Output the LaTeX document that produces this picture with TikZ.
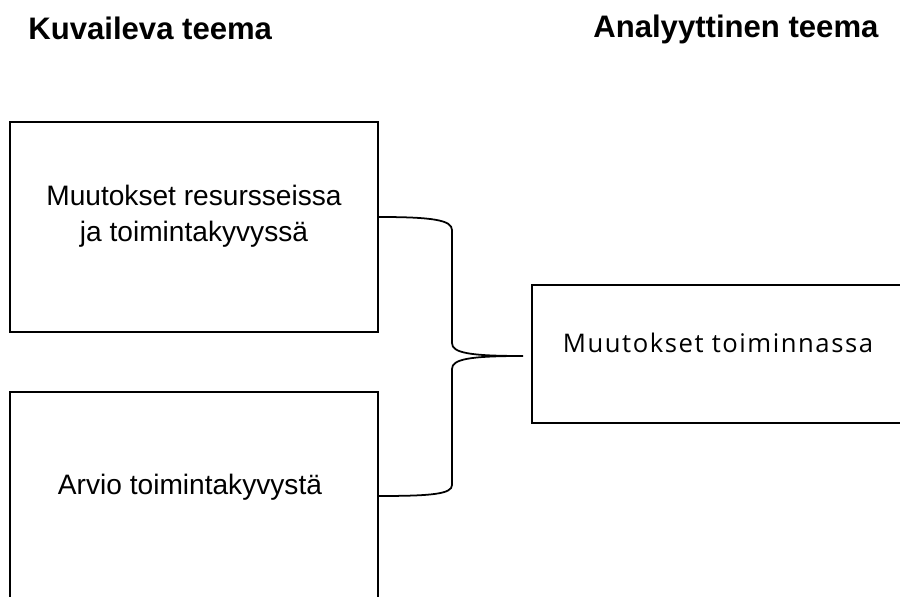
\documentclass[tikz,border=0pt]{standalone}
\usepackage{fontspec}
\usepackage{tikz}
\usetikzlibrary{calc}
\setmainfont{Liberation Sans}
\newfontfamily\aptosfont[LetterSpace=6]{Open Sans}

\begin{document}
\begin{tikzpicture}[x=0.02cm,y=-0.02cm]
        \tikzstyle{every node}+=[inner sep=0pt]
        \tikzstyle{themebox}=[draw=black, line width=1.1pt, rectangle, minimum width=7.36cm, minimum height=4.2cm]
        \tikzstyle{heading}=[anchor=base west, font=\fontsize{17.7}{21}\selectfont\bfseries]
        \tikzstyle{boxtext}=[anchor=base, align=center, font=\fontsize{16}{21}\selectfont]
        \useasboundingbox (0,0) rectangle (900,597);
        \clip (0,0) rectangle (900,597);
        \node [heading] (kuv) at (28,40) {Kuvaileva teema};
        \node [heading] (ana) at (593,38) {Analyyttinen teema};
        \node [themebox] (box1) at (194,227) {};
        \node [themebox] (box2) at (194,497) {};
        \node [themebox, minimum width=7.6cm, minimum height=2.76cm] (box3) at (722,354) {};
        \node [boxtext] (txt1) at (194,242) {Muutokset resursseissa\\ja toimintakyvyssä};
        \node [boxtext] (txt2) at (190,495) {Arvio toimintakyvystä};
        \node [anchor=base, font=\fontsize{14.6}{17}\aptosfont] (txt3) at (718,353) {Muutokset toiminnassa};
        \coordinate (tip) at (523,356);
        \draw [black, line width=1pt] ($(box1.east)+(0,-10)$) .. controls (432,217) and (452,220) .. (452,230) -- (452,343)
                .. controls (452,353) and (470,356) .. (tip)
                .. controls (470,356) and (452,359) .. (452,369) -- (452,485)
                .. controls (452,494) and (432,496) .. ($(box2.east)+(0,-1)$);
\end{tikzpicture}
\end{document}
